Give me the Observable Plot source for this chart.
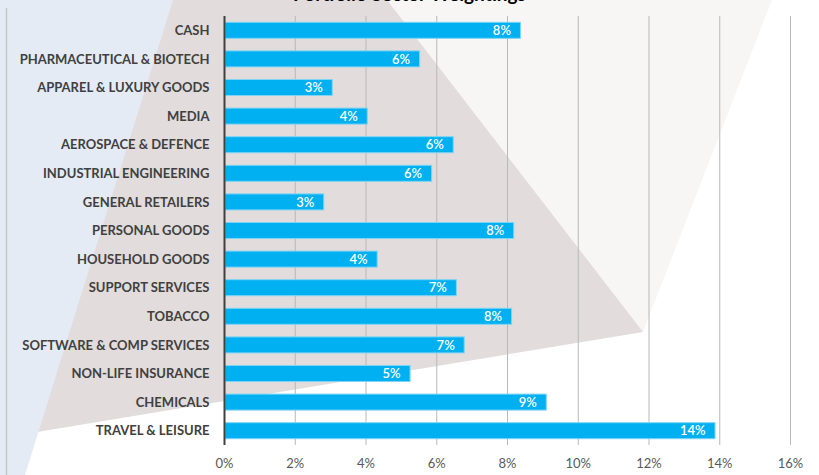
<!DOCTYPE html>
<html>
<head>
<meta charset="utf-8">
<script src="https://cdn.jsdelivr.net/npm/d3@7"></script>
<script src="https://cdn.jsdelivr.net/npm/@observablehq/plot@0.6"></script>
<style>
  html, body { margin: 0; padding: 0; background: #fff; }
  #wrap { position: relative; width: 819px; height: 475px; overflow: hidden; background: #fff; }
  #bg { position: absolute; left: 0; top: 0; }
  #title { position: absolute; left: 0; width: 819px; top: -18px; text-align: center; padding-left: 0;
           font-family: Lato, "Open Sans", sans-serif; font-weight: bold; font-size: 19px; color: #000; }
  #chart { position: absolute; left: 0; top: 0; }
</style>
</head>
<body>
<div id="wrap">
  <svg id="bg" width="819" height="475">
    <polygon points="300,0 772,0 643,332" fill="#f8f6f5"/>
    <polygon points="0,0 387,0 643,332 37,432" fill="#e2dcdc"/>
    <polygon points="0,0 173,0 25,475 0,475" fill="#e4ebf5"/>
    <line x1="6.5" y1="8" x2="6.5" y2="475" stroke="#c8c8c8" stroke-width="1.5"/>
  </svg>
  <div id="title">Portfolio Sector Weightings</div>
  <div id="chart"></div>
</div>
<script>
const categories = ["CASH","PHARMACEUTICAL & BIOTECH","APPAREL & LUXURY GOODS","MEDIA","AEROSPACE & DEFENCE","INDUSTRIAL ENGINEERING","GENERAL RETAILERS","PERSONAL GOODS","HOUSEHOLD GOODS","SUPPORT SERVICES","TOBACCO","SOFTWARE & COMP SERVICES","NON-LIFE INSURANCE","CHEMICALS","TRAVEL & LEISURE"];
const weights = [8.38, 5.53, 3.06, 4.05, 6.48, 5.87, 2.82, 8.19, 4.33, 6.57, 8.13, 6.79, 5.26, 9.11, 13.88];
const xTicks = [0, 2, 4, 6, 8, 10, 12, 14, 16];

const data = categories.map((c, i) => ({category: c, weight: weights[i]}));

const chart = Plot.plot({
  width: 819,
  height: 475,
  marginLeft: 224,
  marginRight: 29,
  marginTop: 16,
  marginBottom: 30,
  style: {background: "transparent", fontFamily: "Lato, 'Open Sans', sans-serif"},
  x: {domain: [0, 16], ticks: xTicks, tickFormat: d => d + "%", label: null},
  y: {domain: categories, paddingInner: 0.44, paddingOuter: 0.22, round: false, label: null},
  marks: [
    Plot.gridX(xTicks.filter(t => t > 0), {stroke: "#b8b8b8", strokeOpacity: 1, strokeWidth: 1}),
    Plot.axisX({ticks: xTicks, tickFormat: d => d + "%", tickSize: 0, tickPadding: 13, fontSize: 13, fill: "#595959", label: null}),
    Plot.axisY({tickSize: 0, tickPadding: 15, fontSize: 13, fontWeight: "bold", fill: "#404040", label: null}),
    Plot.barX(data, {x: "weight", y: "category", fill: "#00b0f0", stroke: "#7fd4f5", strokeWidth: 1, insetLeft: 1}),
    Plot.text(data, {x: "weight", y: "category", text: d => Math.round(d.weight) + "%", textAnchor: "end", dx: -10, fill: "#ffffff", fontSize: 13, fontWeight: "600"}),
    Plot.ruleX([0], {stroke: "#404040", strokeWidth: 2})
  ]
});
document.getElementById("chart").appendChild(chart);
</script>
</body>
</html>
